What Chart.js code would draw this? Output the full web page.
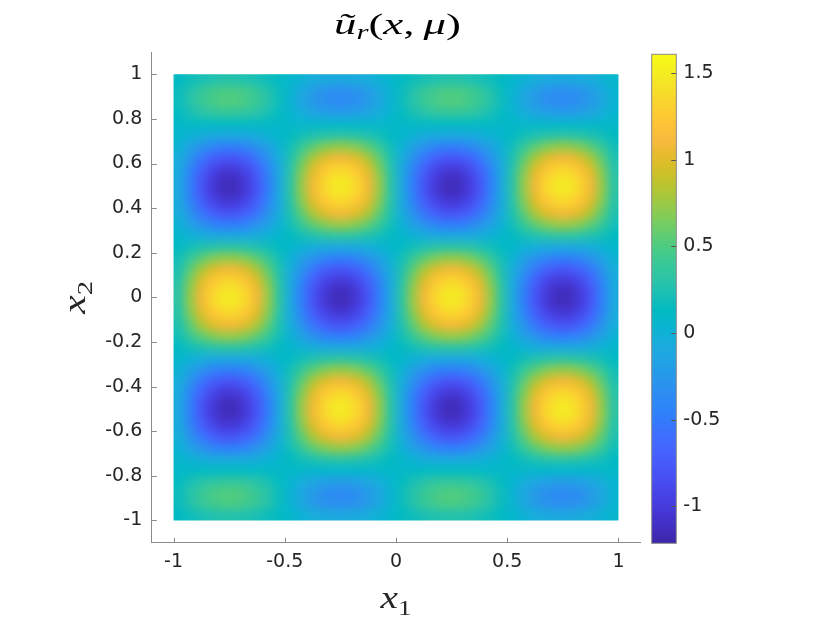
<!DOCTYPE html>
<html>
<head>
<meta charset="utf-8">
<script src="https://cdn.jsdelivr.net/npm/chart.js@4.4.0/dist/chart.umd.min.js"></script>
<style>
html,body{margin:0;padding:0;background:#ffffff;}
#wrap{position:relative;width:830px;height:623px;overflow:hidden;}
#main{position:absolute;left:0;top:0;}
#cbar{position:absolute;left:600px;top:0;}
</style>
</head>
<body>
<div id="wrap">
<canvas id="main" width="830" height="623"></canvas>
<canvas id="cbar" width="160" height="623"></canvas>
</div>
<script>
// ---- data ----
const x1Centers = [-0.975,-0.925,-0.875,-0.825,-0.775,-0.725,-0.675,-0.625,-0.575,-0.525,-0.475,-0.425,-0.375,-0.325,-0.275,-0.225,-0.175,-0.125,-0.075,-0.025,0.025,0.075,0.125,0.175,0.225,0.275,0.325,0.375,0.425,0.475,0.525,0.575,0.625,0.675,0.725,0.775,0.825,0.875,0.925,0.975];
const x2Centers = [0.975,0.925,0.875,0.825,0.775,0.725,0.675,0.625,0.575,0.525,0.475,0.425,0.375,0.325,0.275,0.225,0.175,0.125,0.075,0.025,-0.025,-0.075,-0.125,-0.175,-0.225,-0.275,-0.325,-0.375,-0.425,-0.475,-0.525,-0.575,-0.625,-0.675,-0.725,-0.775,-0.825,-0.875,-0.925,-0.975];
// rows follow x2Centers (top to bottom), columns follow x1Centers (left to right)
const uValues = [
[0.13,0.18,0.22,0.25,0.27,0.27,0.25,0.22,0.18,0.13,0.07,0.01,-0.04,-0.07,-0.09,-0.09,-0.07,-0.04,0.01,0.07,0.13,0.18,0.22,0.25,0.27,0.27,0.25,0.22,0.18,0.13,0.07,0.01,-0.04,-0.07,-0.09,-0.09,-0.07,-0.04,0.01,0.07],
[0.16,0.28,0.38,0.45,0.49,0.49,0.45,0.38,0.28,0.16,0.03,-0.1,-0.22,-0.3,-0.34,-0.34,-0.3,-0.22,-0.1,0.03,0.16,0.28,0.38,0.45,0.49,0.49,0.45,0.38,0.28,0.16,0.03,-0.1,-0.22,-0.3,-0.34,-0.34,-0.3,-0.22,-0.1,0.03],
[0.17,0.29,0.4,0.47,0.51,0.51,0.47,0.4,0.29,0.17,0.02,-0.12,-0.24,-0.33,-0.37,-0.37,-0.33,-0.24,-0.12,0.02,0.17,0.29,0.4,0.47,0.51,0.51,0.47,0.4,0.29,0.17,0.02,-0.12,-0.24,-0.33,-0.37,-0.37,-0.33,-0.24,-0.12,0.02],
[0.14,0.22,0.29,0.34,0.36,0.36,0.34,0.29,0.22,0.14,0.05,-0.04,-0.11,-0.17,-0.2,-0.2,-0.17,-0.11,-0.04,0.05,0.14,0.22,0.29,0.34,0.36,0.36,0.34,0.29,0.22,0.14,0.05,-0.04,-0.11,-0.17,-0.2,-0.2,-0.17,-0.11,-0.04,0.05],
[0.1,0.11,0.12,0.12,0.13,0.13,0.12,0.12,0.11,0.1,0.1,0.09,0.08,0.08,0.07,0.07,0.08,0.08,0.09,0.1,0.1,0.11,0.12,0.12,0.13,0.13,0.12,0.12,0.11,0.1,0.1,0.09,0.08,0.08,0.07,0.07,0.08,0.08,0.09,0.1],
[0.07,0.01,-0.04,-0.08,-0.09,-0.09,-0.08,-0.04,0.01,0.07,0.13,0.2,0.25,0.29,0.32,0.32,0.29,0.25,0.2,0.13,0.07,0.01,-0.04,-0.08,-0.09,-0.09,-0.08,-0.04,0.01,0.07,0.13,0.2,0.25,0.29,0.32,0.32,0.29,0.25,0.2,0.13],
[0.01,-0.16,-0.3,-0.41,-0.47,-0.47,-0.41,-0.3,-0.16,0.01,0.2,0.39,0.55,0.67,0.73,0.73,0.67,0.55,0.39,0.2,0.01,-0.16,-0.3,-0.41,-0.47,-0.47,-0.41,-0.3,-0.16,0.01,0.2,0.39,0.55,0.67,0.73,0.73,0.67,0.55,0.39,0.2],
[-0.04,-0.3,-0.53,-0.69,-0.78,-0.78,-0.69,-0.53,-0.3,-0.04,0.25,0.55,0.8,0.98,1.08,1.08,0.98,0.8,0.55,0.25,-0.04,-0.3,-0.53,-0.69,-0.78,-0.78,-0.69,-0.53,-0.3,-0.04,0.25,0.55,0.8,0.98,1.08,1.08,0.98,0.8,0.55,0.25],
[-0.08,-0.41,-0.69,-0.9,-1.01,-1.01,-0.9,-0.69,-0.41,-0.08,0.29,0.67,0.98,1.21,1.33,1.33,1.21,0.98,0.67,0.29,-0.08,-0.41,-0.69,-0.9,-1.01,-1.01,-0.9,-0.69,-0.41,-0.08,0.29,0.67,0.98,1.21,1.33,1.33,1.21,0.98,0.67,0.29],
[-0.09,-0.47,-0.78,-1.01,-1.13,-1.13,-1.01,-0.78,-0.47,-0.09,0.32,0.73,1.08,1.33,1.47,1.47,1.33,1.08,0.73,0.32,-0.09,-0.47,-0.78,-1.01,-1.13,-1.13,-1.01,-0.78,-0.47,-0.09,0.32,0.73,1.08,1.33,1.47,1.47,1.33,1.08,0.73,0.32],
[-0.09,-0.47,-0.78,-1.01,-1.13,-1.13,-1.01,-0.78,-0.47,-0.09,0.32,0.73,1.08,1.33,1.47,1.47,1.33,1.08,0.73,0.32,-0.09,-0.47,-0.78,-1.01,-1.13,-1.13,-1.01,-0.78,-0.47,-0.09,0.32,0.73,1.08,1.33,1.47,1.47,1.33,1.08,0.73,0.32],
[-0.08,-0.41,-0.69,-0.9,-1.01,-1.01,-0.9,-0.69,-0.41,-0.08,0.29,0.67,0.98,1.21,1.33,1.33,1.21,0.98,0.67,0.29,-0.08,-0.41,-0.69,-0.9,-1.01,-1.01,-0.9,-0.69,-0.41,-0.08,0.29,0.67,0.98,1.21,1.33,1.33,1.21,0.98,0.67,0.29],
[-0.04,-0.3,-0.53,-0.69,-0.78,-0.78,-0.69,-0.53,-0.3,-0.04,0.25,0.55,0.8,0.98,1.08,1.08,0.98,0.8,0.55,0.25,-0.04,-0.3,-0.53,-0.69,-0.78,-0.78,-0.69,-0.53,-0.3,-0.04,0.25,0.55,0.8,0.98,1.08,1.08,0.98,0.8,0.55,0.25],
[0.01,-0.16,-0.3,-0.41,-0.47,-0.47,-0.41,-0.3,-0.16,0.01,0.2,0.39,0.55,0.67,0.73,0.73,0.67,0.55,0.39,0.2,0.01,-0.16,-0.3,-0.41,-0.47,-0.47,-0.41,-0.3,-0.16,0.01,0.2,0.39,0.55,0.67,0.73,0.73,0.67,0.55,0.39,0.2],
[0.07,0.01,-0.04,-0.08,-0.09,-0.09,-0.08,-0.04,0.01,0.07,0.13,0.2,0.25,0.29,0.32,0.32,0.29,0.25,0.2,0.13,0.07,0.01,-0.04,-0.08,-0.09,-0.09,-0.08,-0.04,0.01,0.07,0.13,0.2,0.25,0.29,0.32,0.32,0.29,0.25,0.2,0.13],
[0.13,0.2,0.25,0.29,0.32,0.32,0.29,0.25,0.2,0.13,0.07,0.01,-0.04,-0.08,-0.09,-0.09,-0.08,-0.04,0.01,0.07,0.13,0.2,0.25,0.29,0.32,0.32,0.29,0.25,0.2,0.13,0.07,0.01,-0.04,-0.08,-0.09,-0.09,-0.08,-0.04,0.01,0.07],
[0.2,0.39,0.55,0.67,0.73,0.73,0.67,0.55,0.39,0.2,0.01,-0.16,-0.3,-0.41,-0.47,-0.47,-0.41,-0.3,-0.16,0.01,0.2,0.39,0.55,0.67,0.73,0.73,0.67,0.55,0.39,0.2,0.01,-0.16,-0.3,-0.41,-0.47,-0.47,-0.41,-0.3,-0.16,0.01],
[0.25,0.55,0.8,0.98,1.08,1.08,0.98,0.8,0.55,0.25,-0.04,-0.3,-0.53,-0.69,-0.78,-0.78,-0.69,-0.53,-0.3,-0.04,0.25,0.55,0.8,0.98,1.08,1.08,0.98,0.8,0.55,0.25,-0.04,-0.3,-0.53,-0.69,-0.78,-0.78,-0.69,-0.53,-0.3,-0.04],
[0.29,0.67,0.98,1.21,1.33,1.33,1.21,0.98,0.67,0.29,-0.08,-0.41,-0.69,-0.9,-1.01,-1.01,-0.9,-0.69,-0.41,-0.08,0.29,0.67,0.98,1.21,1.33,1.33,1.21,0.98,0.67,0.29,-0.08,-0.41,-0.69,-0.9,-1.01,-1.01,-0.9,-0.69,-0.41,-0.08],
[0.32,0.73,1.08,1.33,1.47,1.47,1.33,1.08,0.73,0.32,-0.09,-0.47,-0.78,-1.01,-1.13,-1.13,-1.01,-0.78,-0.47,-0.09,0.32,0.73,1.08,1.33,1.47,1.47,1.33,1.08,0.73,0.32,-0.09,-0.47,-0.78,-1.01,-1.13,-1.13,-1.01,-0.78,-0.47,-0.09],
[0.32,0.73,1.08,1.33,1.47,1.47,1.33,1.08,0.73,0.32,-0.09,-0.47,-0.78,-1.01,-1.13,-1.13,-1.01,-0.78,-0.47,-0.09,0.32,0.73,1.08,1.33,1.47,1.47,1.33,1.08,0.73,0.32,-0.09,-0.47,-0.78,-1.01,-1.13,-1.13,-1.01,-0.78,-0.47,-0.09],
[0.29,0.67,0.98,1.21,1.33,1.33,1.21,0.98,0.67,0.29,-0.08,-0.41,-0.69,-0.9,-1.01,-1.01,-0.9,-0.69,-0.41,-0.08,0.29,0.67,0.98,1.21,1.33,1.33,1.21,0.98,0.67,0.29,-0.08,-0.41,-0.69,-0.9,-1.01,-1.01,-0.9,-0.69,-0.41,-0.08],
[0.25,0.55,0.8,0.98,1.08,1.08,0.98,0.8,0.55,0.25,-0.04,-0.3,-0.53,-0.69,-0.78,-0.78,-0.69,-0.53,-0.3,-0.04,0.25,0.55,0.8,0.98,1.08,1.08,0.98,0.8,0.55,0.25,-0.04,-0.3,-0.53,-0.69,-0.78,-0.78,-0.69,-0.53,-0.3,-0.04],
[0.2,0.39,0.55,0.67,0.73,0.73,0.67,0.55,0.39,0.2,0.01,-0.16,-0.3,-0.41,-0.47,-0.47,-0.41,-0.3,-0.16,0.01,0.2,0.39,0.55,0.67,0.73,0.73,0.67,0.55,0.39,0.2,0.01,-0.16,-0.3,-0.41,-0.47,-0.47,-0.41,-0.3,-0.16,0.01],
[0.13,0.2,0.25,0.29,0.32,0.32,0.29,0.25,0.2,0.13,0.07,0.01,-0.04,-0.08,-0.09,-0.09,-0.08,-0.04,0.01,0.07,0.13,0.2,0.25,0.29,0.32,0.32,0.29,0.25,0.2,0.13,0.07,0.01,-0.04,-0.08,-0.09,-0.09,-0.08,-0.04,0.01,0.07],
[0.07,0.01,-0.04,-0.08,-0.09,-0.09,-0.08,-0.04,0.01,0.07,0.13,0.2,0.25,0.29,0.32,0.32,0.29,0.25,0.2,0.13,0.07,0.01,-0.04,-0.08,-0.09,-0.09,-0.08,-0.04,0.01,0.07,0.13,0.2,0.25,0.29,0.32,0.32,0.29,0.25,0.2,0.13],
[0.01,-0.16,-0.3,-0.41,-0.47,-0.47,-0.41,-0.3,-0.16,0.01,0.2,0.39,0.55,0.67,0.73,0.73,0.67,0.55,0.39,0.2,0.01,-0.16,-0.3,-0.41,-0.47,-0.47,-0.41,-0.3,-0.16,0.01,0.2,0.39,0.55,0.67,0.73,0.73,0.67,0.55,0.39,0.2],
[-0.04,-0.3,-0.53,-0.69,-0.78,-0.78,-0.69,-0.53,-0.3,-0.04,0.25,0.55,0.8,0.98,1.08,1.08,0.98,0.8,0.55,0.25,-0.04,-0.3,-0.53,-0.69,-0.78,-0.78,-0.69,-0.53,-0.3,-0.04,0.25,0.55,0.8,0.98,1.08,1.08,0.98,0.8,0.55,0.25],
[-0.08,-0.41,-0.69,-0.9,-1.01,-1.01,-0.9,-0.69,-0.41,-0.08,0.29,0.67,0.98,1.21,1.33,1.33,1.21,0.98,0.67,0.29,-0.08,-0.41,-0.69,-0.9,-1.01,-1.01,-0.9,-0.69,-0.41,-0.08,0.29,0.67,0.98,1.21,1.33,1.33,1.21,0.98,0.67,0.29],
[-0.09,-0.47,-0.78,-1.01,-1.13,-1.13,-1.01,-0.78,-0.47,-0.09,0.32,0.73,1.08,1.33,1.47,1.47,1.33,1.08,0.73,0.32,-0.09,-0.47,-0.78,-1.01,-1.13,-1.13,-1.01,-0.78,-0.47,-0.09,0.32,0.73,1.08,1.33,1.47,1.47,1.33,1.08,0.73,0.32],
[-0.09,-0.47,-0.78,-1.01,-1.13,-1.13,-1.01,-0.78,-0.47,-0.09,0.32,0.73,1.08,1.33,1.47,1.47,1.33,1.08,0.73,0.32,-0.09,-0.47,-0.78,-1.01,-1.13,-1.13,-1.01,-0.78,-0.47,-0.09,0.32,0.73,1.08,1.33,1.47,1.47,1.33,1.08,0.73,0.32],
[-0.08,-0.41,-0.69,-0.9,-1.01,-1.01,-0.9,-0.69,-0.41,-0.08,0.29,0.67,0.98,1.21,1.33,1.33,1.21,0.98,0.67,0.29,-0.08,-0.41,-0.69,-0.9,-1.01,-1.01,-0.9,-0.69,-0.41,-0.08,0.29,0.67,0.98,1.21,1.33,1.33,1.21,0.98,0.67,0.29],
[-0.04,-0.3,-0.53,-0.69,-0.78,-0.78,-0.69,-0.53,-0.3,-0.04,0.25,0.55,0.8,0.98,1.08,1.08,0.98,0.8,0.55,0.25,-0.04,-0.3,-0.53,-0.69,-0.78,-0.78,-0.69,-0.53,-0.3,-0.04,0.25,0.55,0.8,0.98,1.08,1.08,0.98,0.8,0.55,0.25],
[0.01,-0.16,-0.3,-0.41,-0.47,-0.47,-0.41,-0.3,-0.16,0.01,0.2,0.39,0.55,0.67,0.73,0.73,0.67,0.55,0.39,0.2,0.01,-0.16,-0.3,-0.41,-0.47,-0.47,-0.41,-0.3,-0.16,0.01,0.2,0.39,0.55,0.67,0.73,0.73,0.67,0.55,0.39,0.2],
[0.07,0.01,-0.04,-0.08,-0.09,-0.09,-0.08,-0.04,0.01,0.07,0.13,0.2,0.25,0.29,0.32,0.32,0.29,0.25,0.2,0.13,0.07,0.01,-0.04,-0.08,-0.09,-0.09,-0.08,-0.04,0.01,0.07,0.13,0.2,0.25,0.29,0.32,0.32,0.29,0.25,0.2,0.13],
[0.1,0.11,0.12,0.12,0.13,0.13,0.12,0.12,0.11,0.1,0.1,0.09,0.08,0.08,0.07,0.07,0.08,0.08,0.09,0.1,0.1,0.11,0.12,0.12,0.13,0.13,0.12,0.12,0.11,0.1,0.1,0.09,0.08,0.08,0.07,0.07,0.08,0.08,0.09,0.1],
[0.14,0.22,0.29,0.34,0.36,0.36,0.34,0.29,0.22,0.14,0.05,-0.04,-0.11,-0.17,-0.2,-0.2,-0.17,-0.11,-0.04,0.05,0.14,0.22,0.29,0.34,0.36,0.36,0.34,0.29,0.22,0.14,0.05,-0.04,-0.11,-0.17,-0.2,-0.2,-0.17,-0.11,-0.04,0.05],
[0.17,0.29,0.4,0.47,0.51,0.51,0.47,0.4,0.29,0.17,0.02,-0.12,-0.24,-0.33,-0.37,-0.37,-0.33,-0.24,-0.12,0.02,0.17,0.29,0.4,0.47,0.51,0.51,0.47,0.4,0.29,0.17,0.02,-0.12,-0.24,-0.33,-0.37,-0.37,-0.33,-0.24,-0.12,0.02],
[0.16,0.28,0.38,0.45,0.49,0.49,0.45,0.38,0.28,0.16,0.03,-0.1,-0.22,-0.3,-0.34,-0.34,-0.3,-0.22,-0.1,0.03,0.16,0.28,0.38,0.45,0.49,0.49,0.45,0.38,0.28,0.16,0.03,-0.1,-0.22,-0.3,-0.34,-0.34,-0.3,-0.22,-0.1,0.03],
[0.13,0.18,0.22,0.25,0.27,0.27,0.25,0.22,0.18,0.13,0.07,0.01,-0.04,-0.07,-0.09,-0.09,-0.07,-0.04,0.01,0.07,0.13,0.18,0.22,0.25,0.27,0.27,0.25,0.22,0.18,0.13,0.07,0.01,-0.04,-0.07,-0.09,-0.09,-0.07,-0.04,0.01,0.07]
];
const xTicks = [-1,-0.5,0,0.5,1];
const xTickLabels = ['-1','-0.5','0','0.5','1'];
const yTicks = [-1,-0.8,-0.6,-0.4,-0.2,0,0.2,0.4,0.6,0.8,1];
const yTickLabels = ['-1','-0.8','-0.6','-0.4','-0.2','0','0.2','0.4','0.6','0.8','1'];
const cbarTicks = [-1,-0.5,0,0.5,1,1.5];
const cbarTickLabels = ['-1','-0.5','0','0.5','1','1.5'];
const cLimits = [-1.213, 1.608];
const axisLimits = [-1.1, 1.1];

// ---- style: parula colormap stops ----
const parula = [
[1,0.2422,0.1504,0.6603],[3,0.2578,0.1818,0.7511],[5,0.2706,0.2147,0.8364],[7,0.2783,0.2559,0.8991],
[9,0.2813,0.3006,0.9414],[11,0.2795,0.3447,0.9717],[13,0.2699,0.3892,0.9906],[15,0.2440,0.4358,0.9988],
[17,0.1963,0.4847,0.9892],[19,0.1786,0.5289,0.9682],[21,0.1687,0.5703,0.9359],[23,0.1460,0.6091,0.9079],
[25,0.1248,0.6459,0.8883],[27,0.0952,0.6798,0.8598],[29,0.0297,0.7082,0.8163],[31,0.0067,0.7312,0.7660],
[33,0.0964,0.7500,0.7120],[35,0.1717,0.7670,0.6554],[37,0.2161,0.7843,0.5923],[39,0.2906,0.7973,0.5188],
[41,0.3909,0.8029,0.4354],[43,0.5044,0.7993,0.3480],[45,0.6174,0.7876,0.2612],[47,0.7242,0.7698,0.1910],
[49,0.8203,0.7498,0.1535],[51,0.9035,0.7330,0.1774],[53,0.9728,0.7298,0.2394],[55,0.9970,0.7659,0.2199],
[57,0.9892,0.8136,0.1885],[59,0.9676,0.8639,0.1643],[61,0.9597,0.9135,0.1423],[63,0.9691,0.9606,0.1064],
[64,0.9769,0.9839,0.0805]
];
function rgbStr(r,g,b){return 'rgb('+Math.round(r*255)+','+Math.round(g*255)+','+Math.round(b*255)+')';}
function cmap(v){
  let t=(v-cLimits[0])/(cLimits[1]-cLimits[0]);
  t=Math.max(0,Math.min(1,t));
  const p=t*63+1;
  for(let i=0;i<parula.length-1;i++){
    const a=parula[i], b=parula[i+1];
    if(p>=a[0] && p<=b[0]){
      const f=(p-a[0])/(b[0]-a[0]);
      return rgbStr(a[1]+(b[1]-a[1])*f, a[2]+(b[2]-a[2])*f, a[3]+(b[3]-a[3])*f);
    }
  }
  const l=parula[parula.length-1];
  return rgbStr(l[1],l[2],l[3]);
}

const AXIS_COLOR = '#8a8a8a';
const TEXT_COLOR = '#262626';
const TICK_FONT = {family:'DejaVu Sans', size:19};

function drawRich(ctx, pieces, cx, cy, targetW, rotate, color){
  ctx.save();
  ctx.translate(cx, cy);
  if(rotate) ctx.rotate(-Math.PI/2);
  let W=0;
  pieces.forEach(p=>{
    if(p.gap){p.w=p.gap;}
    else{ctx.font=(p.it?'italic ':'')+p.size+'px "Liberation Serif"'; p.w=ctx.measureText(p.t).width;}
    W+=p.w;
  });
  const sx = targetW ? targetW/W : 1;
  ctx.scale(sx,1);
  ctx.textAlign='left'; ctx.textBaseline='alphabetic';
  ctx.fillStyle=color||TEXT_COLOR;
  let xx=-W/2;
  pieces.forEach(p=>{
    if(!p.gap){
      ctx.font=(p.it?'italic ':'')+p.size+'px "Liberation Serif"';
      ctx.fillText(p.t, xx, p.dy||0);
    }
    xx+=p.w;
  });
  ctx.restore();
}

// cells for the dataset (bound to the chart, drawn by the heatmap plugin)
const cells = [];
for(let r=0;r<x2Centers.length;r++){
  for(let c=0;c<x1Centers.length;c++){
    cells.push({x:x1Centers[c], y:x2Centers[r], v:uValues[r][c], r:r, c:c});
  }
}

const heatPlugin = {
  id:'heat',
  beforeDatasetsDraw(chart){
    const ctx=chart.ctx, xs=chart.scales.x, ys=chart.scales.y;
    const dpr=chart.currentDevicePixelRatio||1;
    const off=document.createElement('canvas');
    off.width=chart.canvas.width; off.height=chart.canvas.height;
    const o=off.getContext('2d');
    o.scale(dpr,dpr);
    const hx=(x1Centers[1]-x1Centers[0])/2;
    const hy=(x2Centers[0]-x2Centers[1])/2;
    const ext=16, lastC=x1Centers.length-1, lastR=x2Centers.length-1;
    chart.data.datasets[0].data.forEach(d=>{
      let l=xs.getPixelForValue(d.x-hx), rr=xs.getPixelForValue(d.x+hx);
      let t=ys.getPixelForValue(d.y+hy), b=ys.getPixelForValue(d.y-hy);
      if(d.c===0) l-=ext;
      if(d.c===lastC) rr+=ext;
      if(d.r===0) t-=ext;
      if(d.r===lastR) b+=ext;
      o.fillStyle=cmap(d.v);
      o.fillRect(l,t,rr-l+0.7,b-t+0.7);
    });
    const L=xs.getPixelForValue(-1), R=xs.getPixelForValue(1), T=ys.getPixelForValue(1), B=ys.getPixelForValue(-1);
    ctx.save();
    ctx.beginPath(); ctx.rect(L,T,R-L,B-T); ctx.clip();
    ctx.filter='blur(4px)';
    ctx.drawImage(off,0,0,off.width/dpr,off.height/dpr);
    ctx.restore();
  },
  afterDraw(chart){
    const ctx=chart.ctx, xs=chart.scales.x, ys=chart.scales.y, a=chart.chartArea;
    ctx.save();
    ctx.strokeStyle=AXIS_COLOR; ctx.lineWidth=1;
    ctx.beginPath();
    xTicks.forEach(v=>{
      const px=Math.round(xs.getPixelForValue(v))+0.5;
      ctx.moveTo(px,a.bottom); ctx.lineTo(px,a.bottom-5);
    });
    yTicks.forEach(v=>{
      const py=Math.round(ys.getPixelForValue(v))+0.5;
      ctx.moveTo(a.left,py); ctx.lineTo(a.left+5.5,py);
    });
    ctx.stroke();
    ctx.restore();
    const cx=(a.left+a.right)/2;
    // title
    const title=[{t:'ũ',it:true,size:29},{t:'r',it:true,size:20,dy:5},{t:'(',size:29},{t:'x',it:true,size:29},{t:',',size:29},{gap:6},{t:'μ',it:true,size:29},{t:')',size:29}];
    drawRich(ctx,title,cx+1.5,34,127,false,'#000000');
    // x label
    const xl=[{t:'x',it:true,size:32},{t:'1',size:22,dy:7}];
    drawRich(ctx,xl,cx,608,31,false);
    // y label
    const yl=[{t:'x',it:true,size:32},{t:'2',size:22,dy:7}];
    drawRich(ctx,yl,85,(a.top+a.bottom)/2,33,true);
  }
};

new Chart(document.getElementById('main'),{
  type:'scatter',
  data:{datasets:[{data:cells, pointRadius:0, pointHoverRadius:0, showLine:false}]},
  options:{
    responsive:false, animation:false, events:[],
    layout:{padding:{left:0, top:52, right:189.3, bottom:0}},
    plugins:{legend:{display:false}, tooltip:{enabled:false}, title:{display:false}},
    scales:{
      x:{
        type:'linear', position:'bottom', min:axisLimits[0], max:axisLimits[1],
        afterBuildTicks:s=>{s.ticks=xTicks.map(v=>({value:v}));},
        afterFit:s=>{s.height=80.3;},
        ticks:{font:TICK_FONT, color:TEXT_COLOR, padding:8, maxRotation:0, autoSkip:false,
          callback:(v,i)=>xTickLabels[xTicks.indexOf(v)]},
        grid:{display:true, drawOnChartArea:false, drawTicks:false},
        border:{display:true, color:AXIS_COLOR, width:1}
      },
      y:{
        type:'linear', position:'left', min:axisLimits[0], max:axisLimits[1],
        afterBuildTicks:s=>{s.ticks=yTicks.map(v=>({value:v}));},
        afterFit:s=>{s.width=151.3;},
        ticks:{font:TICK_FONT, color:TEXT_COLOR, padding:9, autoSkip:false,
          callback:(v,i)=>yTickLabels[yTicks.indexOf(v)]},
        grid:{display:true, drawOnChartArea:false, drawTicks:false},
        border:{display:true, color:AXIS_COLOR, width:1}
      }
    }
  },
  plugins:[heatPlugin]
});

const cbarPlugin = {
  id:'cbarFill',
  beforeDatasetsDraw(chart){
    const ctx=chart.ctx, ys=chart.scales.y, a=chart.chartArea;
    const y0=ys.getPixelForValue(cLimits[0]), y1=ys.getPixelForValue(cLimits[1]);
    const g=ctx.createLinearGradient(0,y0,0,y1);
    parula.forEach(s=>{g.addColorStop((s[0]-1)/63, rgbStr(s[1],s[2],s[3]));});
    ctx.save();
    ctx.fillStyle=g;
    ctx.fillRect(a.left,y1,a.right-a.left,y0-y1);
    ctx.strokeStyle='#555555'; ctx.lineWidth=1;
    ctx.beginPath();
    cbarTicks.forEach(v=>{
      const py=Math.round(ys.getPixelForValue(v))+0.5;
      ctx.moveTo(a.right,py); ctx.lineTo(a.right-5,py);
    });
    ctx.stroke();
    ctx.strokeStyle=AXIS_COLOR;
    ctx.strokeRect(a.left,y1,a.right-a.left,y0-y1);
    ctx.restore();
  }
};

new Chart(document.getElementById('cbar'),{
  type:'scatter',
  data:{datasets:[{data:[], pointRadius:0}]},
  options:{
    responsive:false, animation:false, events:[],
    layout:{padding:{left:51.7, top:54.3, right:0, bottom:79.7}},
    plugins:{legend:{display:false}, tooltip:{enabled:false}},
    scales:{
      x:{type:'linear', display:false, min:0, max:1},
      y:{
        type:'linear', position:'right', min:cLimits[0], max:cLimits[1],
        afterBuildTicks:s=>{s.ticks=cbarTicks.map(v=>({value:v}));},
        afterFit:s=>{s.width=83.7;},
        ticks:{font:TICK_FONT, color:TEXT_COLOR, padding:7, autoSkip:false,
          callback:(v,i)=>cbarTickLabels[cbarTicks.indexOf(v)]},
        grid:{display:true, drawOnChartArea:false, drawTicks:false},
        border:{display:false}
      }
    }
  },
  plugins:[cbarPlugin]
});
</script>
</body>
</html>
